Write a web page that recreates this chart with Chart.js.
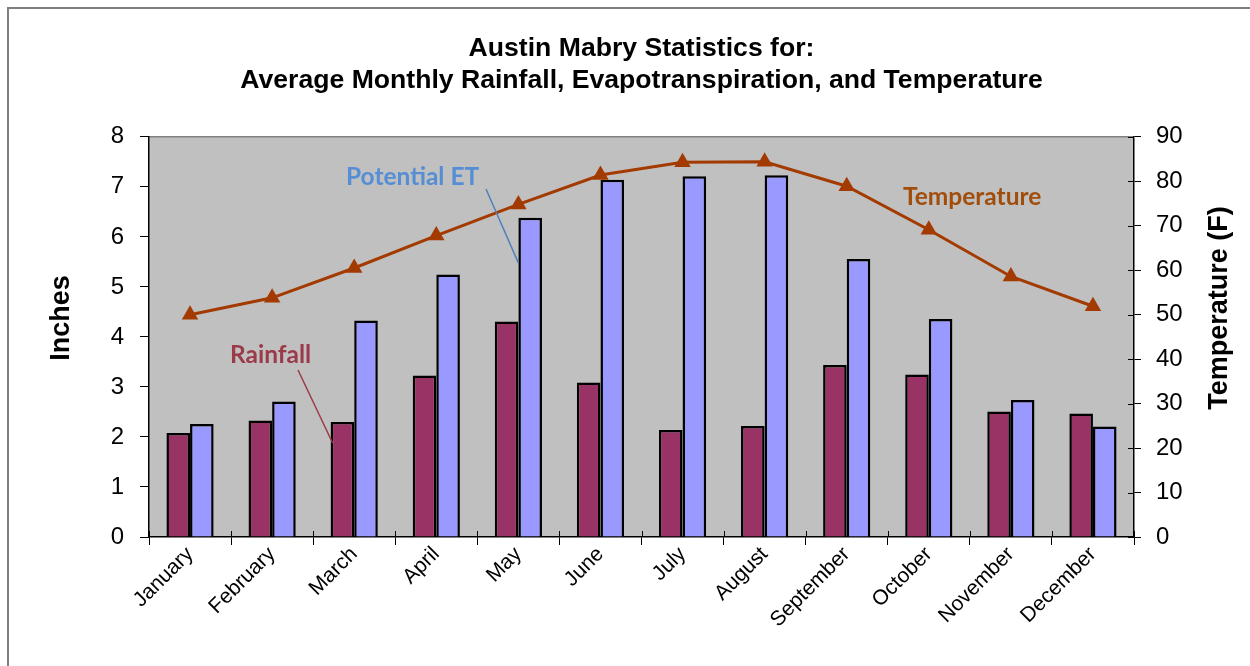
<!DOCTYPE html>
<html>
<head>
<meta charset="utf-8">
<script src="https://cdn.jsdelivr.net/npm/chart.js@4.4.1/dist/chart.umd.min.js"></script>
<style>
  html, body { margin: 0; padding: 0; background: #ffffff; }
  #wrap { width: 1250px; height: 666px; }
</style>
</head>
<body>
<div id="wrap"><canvas id="chart" width="1250" height="666"></canvas></div>
<script>
// Austin Mabry monthly climate normals
const months = ['January', 'February', 'March', 'April', 'May', 'June',
                'July', 'August', 'September', 'October', 'November', 'December'];
const rainfall = [2.08, 2.33, 2.30, 3.23, 4.31, 3.09, 2.14, 2.22, 3.44, 3.25, 2.51, 2.47];
const potentialET = [2.26, 2.71, 4.33, 5.25, 6.38, 7.14, 7.21, 7.23, 5.56, 4.36, 2.74, 2.21];
const temperature = [50.0, 53.8, 60.5, 67.8, 74.8, 81.4, 84.3, 84.4, 78.9, 69.1, 58.6, 51.9];

const inchRange = [0, 8];
const inchStep = 1;
const tempRange = [0, 90];
const tempStep = 10;

const titleLines = ['Austin Mabry Statistics for:',
                    'Average Monthly Rainfall, Evapotranspiration, and Temperature'];
const leftAxisTitle = 'Inches';
const rightAxisTitle = 'Temperature (F)';

const ARIAL = '"Liberation Sans", Arial, sans-serif';
const LABEL_FONT = 'Lato, "Open Sans", sans-serif';

// Page frame, grey plot background and the top edge of the plot area
const framePlugin = {
  id: 'frame',
  beforeDraw(chart) {
    const { ctx, chartArea: a } = chart;
    ctx.save();
    ctx.fillStyle = '#ffffff';
    ctx.fillRect(0, 0, chart.width, chart.height);
    ctx.strokeStyle = '#7f7f7f';
    ctx.lineWidth = 2;
    ctx.beginPath();
    ctx.moveTo(8, chart.height);
    ctx.lineTo(8, 8);
    ctx.lineTo(chart.width, 8);
    ctx.stroke();
    ctx.fillStyle = '#c0c0c0';
    ctx.fillRect(a.left, a.top, a.right - a.left, a.bottom - a.top);
    ctx.strokeStyle = '#808080';
    ctx.lineWidth = 1.5;
    ctx.beginPath();
    ctx.moveTo(a.left, a.top);
    ctx.lineTo(a.right, a.top);
    ctx.stroke();
    ctx.restore();
  }
};

// Tick marks that also reach into the plot area (x axis and right axis),
// plus both axis titles, each read from bottom to top
const axisExtrasPlugin = {
  id: 'axisExtras',
  afterDraw(chart) {
    const { ctx, scales } = chart;
    ctx.save();
    ctx.strokeStyle = '#000000';
    ctx.lineWidth = 1;
    const x = scales.x;
    ctx.beginPath();
    for (let i = 0; i <= months.length; i++) {
      const px = Math.round(x.getPixelForValue(i - 0.5)) + 0.5;
      ctx.moveTo(px, x.top);
      ctx.lineTo(px, x.top - 6);
    }
    const r = scales.y1;
    for (let v = tempRange[0]; v <= tempRange[1]; v += tempStep) {
      const py = Math.round(r.getPixelForValue(v)) + 0.5;
      ctx.moveTo(r.left, py);
      ctx.lineTo(r.left - 6, py);
    }
    ctx.stroke();

    ctx.fillStyle = '#000000';
    ctx.font = 'bold 27px ' + ARIAL;
    ctx.textAlign = 'center';
    ctx.textBaseline = 'middle';
    const l = scales.y;
    ctx.save();
    ctx.translate(l.left + 62, 318);
    ctx.rotate(-Math.PI / 2);
    ctx.fillText(leftAxisTitle, 0, 0);
    ctx.restore();
    ctx.save();
    ctx.translate(r.right - 30, 308);
    ctx.rotate(-Math.PI / 2);
    ctx.fillText(rightAxisTitle, 0, 0);
    ctx.restore();
    ctx.restore();
  }
};

// Series labels with leader lines
const seriesLabelsPlugin = {
  id: 'seriesLabels',
  afterDatasetsDraw(chart) {
    const { ctx, scales } = chart;
    const y = scales.y;
    const rainBars = chart.getDatasetMeta(1).data;
    const etBars = chart.getDatasetMeta(2).data;
    ctx.save();
    ctx.font = 'bold 24.5px ' + LABEL_FONT;
    ctx.textBaseline = 'middle';
    ctx.textAlign = 'left';

    // Potential ET
    ctx.fillStyle = '#558ed5';
    ctx.fillText('Potential ET', 346, 177);
    const may = etBars[4];
    ctx.strokeStyle = '#4f81bd';
    ctx.lineWidth = 1.5;
    ctx.beginPath();
    ctx.moveTo(486, 189);
    ctx.lineTo(may.x - may.width / 2, y.getPixelForValue(5.48));
    ctx.stroke();

    // Rainfall
    ctx.fillStyle = '#9b3a48';
    ctx.fillText('Rainfall', 230, 355);
    const mar = rainBars[2];
    ctx.strokeStyle = '#9b3a48';
    ctx.beginPath();
    ctx.moveTo(298, 370);
    ctx.lineTo(mar.x - mar.width / 2 + 2, y.getPixelForValue(1.88));
    ctx.stroke();

    // Temperature
    ctx.fillStyle = '#a14d0c';
    ctx.fillText('Temperature', 903, 197);
    ctx.restore();
  }
};

new Chart(document.getElementById('chart'), {
  data: {
    labels: months,
    datasets: [
      {
        type: 'line',
        label: 'Temperature',
        data: temperature,
        yAxisID: 'y1',
        borderColor: '#a33a00',
        backgroundColor: '#a33a00',
        borderWidth: 3,
        pointStyle: 'triangle',
        pointRadius: 9.5,
        pointBorderWidth: 0,
        pointBackgroundColor: '#a33a00',
        tension: 0,
        order: 0
      },
      {
        type: 'bar',
        label: 'Rainfall',
        data: rainfall,
        yAxisID: 'y',
        backgroundColor: '#993366',
        borderColor: '#000000',
        borderWidth: 2.5,
        categoryPercentage: 0.575,
        barPercentage: 1.0,
        order: 1
      },
      {
        type: 'bar',
        label: 'Potential ET',
        data: potentialET,
        yAxisID: 'y',
        backgroundColor: '#9999ff',
        borderColor: '#000000',
        borderWidth: 2.5,
        categoryPercentage: 0.575,
        barPercentage: 1.0,
        order: 1
      }
    ]
  },
  options: {
    responsive: false,
    animation: false,
    devicePixelRatio: 1,
    layout: { padding: { top: 0, right: 0, bottom: 0, left: 0 } },
    plugins: {
      legend: { display: false },
      tooltip: { enabled: false },
      title: {
        display: true,
        fullSize: false,
        text: titleLines,
        color: '#000000',
        font: { family: ARIAL, size: 26.6, weight: 'bold', lineHeight: 1.2 },
        padding: { top: 33, bottom: 40 }
      }
    },
    scales: {
      x: {
        type: 'category',
        offset: true,
        grid: { offset: true, drawOnChartArea: false, tickLength: 8, color: '#000000', lineWidth: 1 },
        border: { color: '#000000', width: 1.5 },
        ticks: {
          autoSkip: false,
          minRotation: 45,
          maxRotation: 45,
          color: '#000000',
          padding: -3,
          font: { family: ARIAL, size: 21 }
        },
        afterFit(scale) { scale.height = 129; }
      },
      y: {
        position: 'left',
        min: inchRange[0],
        max: inchRange[1],
        grid: { drawOnChartArea: false, tickLength: 9, color: '#000000', lineWidth: 1 },
        border: { color: '#000000', width: 1.5 },
        ticks: {
          stepSize: inchStep,
          color: '#000000',
          padding: 16,
          font: { family: ARIAL, size: 24 }
        },
        afterFit(scale) { scale.width = 149; }
      },
      y1: {
        position: 'right',
        min: tempRange[0],
        max: tempRange[1],
        grid: { drawOnChartArea: false, tickLength: 7, color: '#000000', lineWidth: 1 },
        border: { color: '#000000', width: 1.5 },
        ticks: {
          stepSize: tempStep,
          color: '#000000',
          padding: 15,
          font: { family: ARIAL, size: 24 }
        },
        afterFit(scale) { scale.width = 116; }
      }
    }
  },
  plugins: [framePlugin, axisExtrasPlugin, seriesLabelsPlugin]
});
</script>
</body>
</html>
